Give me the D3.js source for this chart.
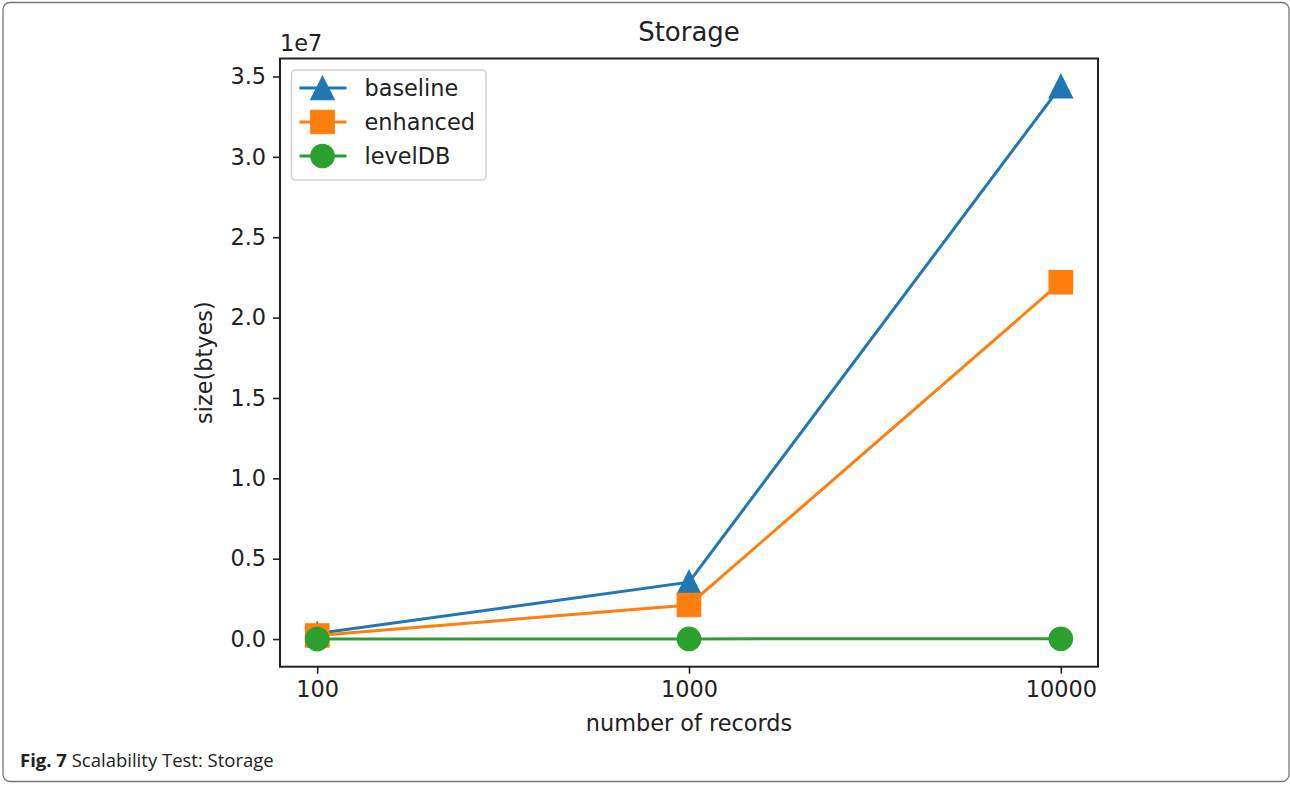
<!DOCTYPE html>
<html>
<head>
<meta charset="utf-8">
<script src="https://cdn.jsdelivr.net/npm/d3@7"></script>
<style>
  body { margin: 0; background: #fff; }
</style>
</head>
<body>
<div id="chart"></div>
<script>
// data (bytes)
const records = [100, 1000, 10000];
const seriesNames = ['baseline', 'enhanced', 'levelDB'];
const baseline = [0.034e7, 0.354e7, 3.44e7];
const enhanced = [0.022e7, 0.212e7, 2.22e7];
const levelDB = [0.0001e7, 0.001e7, 0.002e7];
const yTicks = [0, 0.5e7, 1.0e7, 1.5e7, 2.0e7, 2.5e7, 3.0e7, 3.5e7];

const colors = ['#1f77b4', '#ff7f0e', '#2ca02c'];
const shapes = ['triangle', 'square', 'circle'];
const allSeries = [baseline, enhanced, levelDB];

const W = 1290, H = 785;
const plot = { left: 280, right: 1098, top: 58.5, bottom: 666.7 };
const font = 'DejaVu Sans, sans-serif';
const fs = '22.4px';

const svg = d3.select('#chart')
  .append('svg')
  .attr('width', W)
  .attr('height', H)
  .attr('font-family', font);

// outer figure frame
svg.append('rect')
  .attr('x', 3).attr('y', 2.5)
  .attr('width', 1286).attr('height', 779)
  .attr('rx', 7)
  .attr('fill', 'none')
  .attr('stroke', '#777')
  .attr('stroke-width', 1.3);

// matplotlib style 5% margins (log for x)
const xPad = Math.pow(10, 0.1);
const x = d3.scaleLog()
  .domain([records[0] / xPad, records[records.length - 1] * xPad])
  .range([plot.left, plot.right]);

const yMax = d3.max(allSeries, s => d3.max(s));
const yMin = 0;
const yPadv = (yMax - yMin) * 0.05;
const y = d3.scaleLinear()
  .domain([yMin - yPadv, yMax + yPadv])
  .range([plot.bottom, plot.top]);

// axes
const xAxis = svg.append('g')
  .attr('transform', `translate(0,${plot.bottom})`)
  .call(d3.axisBottom(x).tickValues(records).tickFormat(d3.format('d')).tickSize(7).tickPadding(7));
const yAxis = svg.append('g')
  .attr('transform', `translate(${plot.left},0)`)
  .call(d3.axisLeft(y).tickValues(yTicks).tickFormat(d => (d / 1e7).toFixed(1)).tickSize(7).tickPadding(7));

[xAxis, yAxis].forEach(a => {
  a.select('.domain').remove();
  a.selectAll('.tick line').attr('stroke', '#222').attr('stroke-width', 1.6);
  a.selectAll('.tick text')
    .attr('fill', '#222')
    .attr('font-size', fs)
    .attr('font-family', font);
});

// spines
svg.append('rect')
  .attr('x', plot.left).attr('y', plot.top)
  .attr('width', plot.right - plot.left)
  .attr('height', plot.bottom - plot.top)
  .attr('fill', 'none')
  .attr('stroke', '#222')
  .attr('stroke-width', 2);

function markerPath(shape, s) {
  const h = s / 2;
  if (shape === 'triangle') return `M0,${-h}L${-h},${h}L${h},${h}Z`;
  if (shape === 'square') return `M${-h},${-h}H${h}V${h}H${-h}Z`;
  return d3.symbol().type(d3.symbolCircle).size(Math.PI * h * h)();
}

const markerSize = 23.5;
const line = d3.line()
  .x((d, i) => x(records[i]))
  .y(d => y(d));

allSeries.forEach((vals, k) => {
  const g = svg.append('g').attr('class', 'series');
  g.append('path')
    .datum(vals)
    .attr('d', line)
    .attr('fill', 'none')
    .attr('stroke', colors[k])
    .attr('stroke-width', 3);
  g.selectAll('.pt')
    .data(vals)
    .enter()
    .append('path')
    .attr('class', 'pt')
    .attr('transform', (d, i) => `translate(${x(records[i])},${y(d)})`)
    .attr('d', markerPath(shapes[k], markerSize))
    .attr('fill', colors[k])
    .attr('stroke', colors[k])
    .attr('stroke-width', 1.2);
});

// title, offset text and axis labels
svg.append('text')
  .attr('x', (plot.left + plot.right) / 2)
  .attr('y', 41)
  .attr('text-anchor', 'middle')
  .attr('font-size', '26px')
  .attr('fill', '#222')
  .text('Storage');

svg.append('text')
  .attr('x', plot.left)
  .attr('y', 51)
  .attr('font-size', fs)
  .attr('fill', '#222')
  .text('1e7');

svg.append('text')
  .attr('x', (plot.left + plot.right) / 2)
  .attr('y', 731)
  .attr('text-anchor', 'middle')
  .attr('font-size', fs)
  .attr('fill', '#222')
  .text('number of records');

svg.append('text')
  .attr('transform', `translate(212,${(plot.top + plot.bottom) / 2}) rotate(-90)`)
  .attr('text-anchor', 'middle')
  .attr('font-size', fs)
  .attr('fill', '#222')
  .text('size(btyes)');

// legend
const lg = svg.append('g').attr('transform', 'translate(291.5,70)');
lg.append('rect')
  .attr('width', 194.5).attr('height', 110)
  .attr('rx', 4)
  .attr('fill', 'white')
  .attr('fill-opacity', 0.8)
  .attr('stroke', '#d0d0d0')
  .attr('stroke-width', 1.5);

seriesNames.forEach((name, k) => {
  const ry = 18 + k * 34;
  lg.append('line')
    .attr('x1', 8).attr('x2', 55)
    .attr('y1', ry).attr('y2', ry)
    .attr('stroke', colors[k])
    .attr('stroke-width', 3);
  lg.append('path')
    .attr('transform', `translate(31,${ry})`)
    .attr('d', markerPath(shapes[k], markerSize))
    .attr('fill', colors[k])
    .attr('stroke', colors[k])
    .attr('stroke-width', 1.2);
  lg.append('text')
    .attr('x', 73)
    .attr('y', ry)
    .attr('dy', '0.35em')
    .attr('font-size', fs)
    .attr('fill', '#222')
    .text(name);
});

// caption
const cap = svg.append('text')
  .attr('x', 20)
  .attr('y', 767)
  .attr('font-family', 'Open Sans, Noto Sans, sans-serif')
  .attr('font-size', '18.5px')
  .attr('fill', '#222');
cap.append('tspan').attr('font-weight', 'bold').text('Fig. 7');
cap.append('tspan').text(' Scalability Test: Storage');
</script>
</body>
</html>
